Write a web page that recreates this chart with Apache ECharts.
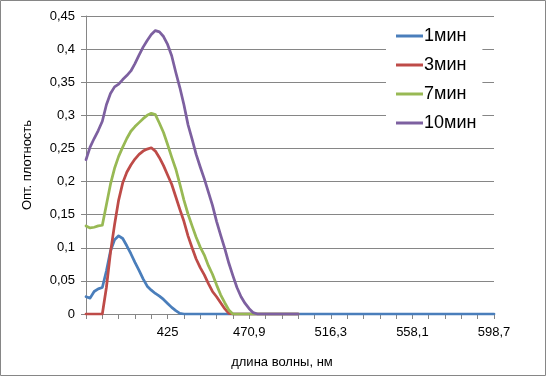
<!DOCTYPE html>
<html>
<head>
<meta charset="utf-8">
<script src="https://cdn.jsdelivr.net/npm/echarts@6/dist/echarts.min.js"></script>
<style>
  html, body { margin: 0; padding: 0; background: #fff; }
  #main { width: 547px; height: 377px; }
</style>
</head>
<body>
<div id="main"></div>
<script>
// длина волны, нм (категории оси X)
var wavelengths = [
  379.0, 381.3, 383.6, 385.9, 388.2, 390.5, 392.8, 395.1, 397.4, 399.7,
  402.0, 404.3, 406.6, 408.9, 411.2, 413.5, 415.8, 418.1, 420.4, 422.7,
  425.0, 427.3, 429.6, 431.9, 434.2, 436.5, 438.8, 441.1, 443.4, 445.7,
  448.0, 450.2, 452.5, 454.8, 457.1, 459.4, 461.7, 464.0, 466.3, 468.6,
  470.9, 473.2, 475.4, 477.7, 480.0, 482.3, 484.5, 486.8, 489.1, 491.3,
  493.6, 495.9, 498.1, 500.4, 502.7, 505.0, 507.2, 509.5, 511.8, 514.0,
  516.3, 518.4, 520.5, 522.6, 524.7, 526.8, 528.8, 530.9, 533.0, 535.1,
  537.2, 539.3, 541.4, 543.5, 545.6, 547.7, 549.7, 551.8, 553.9, 556.0,
  558.1, 560.1, 562.2, 564.2, 566.2, 568.2, 570.3, 572.3, 574.3, 576.3,
  578.4, 580.4, 582.4, 584.5, 586.5, 588.5, 590.5, 592.6, 594.6, 596.7,
  598.7
];

var min1 = [
  0.026, 0.024, 0.034, 0.038, 0.040, 0.065, 0.095, 0.112, 0.118, 0.114,
  0.103, 0.091, 0.078, 0.066, 0.053, 0.042, 0.036, 0.031, 0.027, 0.022,
  0.016, 0.010, 0.005, 0.001, 0, 0, 0, 0, 0, 0,
  0, 0, 0, 0, 0, 0, 0, 0, 0, 0,
  0, 0, 0, 0, 0, 0, 0, 0, 0, 0,
  0, 0, 0, 0, 0, 0, 0, 0, 0, 0,
  0, 0, 0, 0, 0, 0, 0, 0, 0, 0,
  0, 0, 0, 0, 0, 0, 0, 0, 0, 0,
  0, 0, 0, 0, 0, 0, 0, 0, 0, 0,
  0, 0, 0, 0, 0, 0, 0, 0, 0, 0,
  0
];

var min3 = [
  0, 0, 0, 0, 0, 0.040, 0.093, 0.135, 0.172, 0.198,
  0.214, 0.225, 0.234, 0.241, 0.246, 0.249, 0.251, 0.246, 0.236, 0.224,
  0.210, 0.196, 0.177, 0.158, 0.140, 0.118, 0.100, 0.083, 0.070, 0.059,
  0.046, 0.034, 0.026, 0.017, 0.008, 0.001, 0, 0, 0, 0,
  0, 0, 0, 0, 0, 0, 0, 0, 0, 0,
  0, 0, 0
];

var min7 = [
  0.133, 0.130, 0.131, 0.133, 0.134, 0.165, 0.196, 0.220, 0.238, 0.252,
  0.265, 0.276, 0.283, 0.289, 0.295, 0.300, 0.303, 0.301, 0.288, 0.274,
  0.256, 0.237, 0.219, 0.196, 0.172, 0.151, 0.133, 0.116, 0.101, 0.089,
  0.073, 0.060, 0.044, 0.029, 0.017, 0.006, 0, 0, 0, 0,
  0, 0, 0, 0, 0, 0, 0, 0, 0, 0,
  0, 0, 0
];

var min10 = [
  0.233, 0.252, 0.265, 0.277, 0.291, 0.316, 0.333, 0.343, 0.347, 0.354,
  0.360, 0.367, 0.378, 0.391, 0.403, 0.413, 0.422, 0.428, 0.426, 0.419,
  0.407, 0.390, 0.365, 0.342, 0.316, 0.286, 0.264, 0.241, 0.222, 0.204,
  0.184, 0.164, 0.140, 0.119, 0.099, 0.077, 0.058, 0.040, 0.026, 0.016,
  0.008, 0.002, 0, 0, 0, 0, 0, 0, 0, 0,
  0, 0, 0
];

var seriesNames = ['1мин', '3мин', '7мин', '10мин'];
var colors = ['#4a7ebb', '#be4b48', '#98b954', '#7d60a0'];

var font = 'Liberation Sans';
var myChart = echarts.init(document.getElementById('main'));

function lineSeries(name, data, color) {
  return {
    name: name,
    type: 'line',
    data: data,
    showSymbol: false,
    symbol: 'none',
    color: color,
    lineStyle: { width: 2.75, color: color, cap: 'round', join: 'round' }
  };
}

myChart.setOption({
  animation: false,
  backgroundColor: '#fff',
  color: colors,
  grid: { left: 86, right: 53, top: 16, bottom: 63 },
  legend: {
    orient: 'vertical',
    left: 386,
    top: 23,
    padding: [4, 6, 5, 10],
    backgroundColor: '#fff',
    icon: 'rect',
    itemWidth: 27,
    itemHeight: 3,
    itemGap: 11,
    textStyle: { fontFamily: font, fontSize: 18, color: '#000', padding: [0, 0, 0, -4] },
    data: seriesNames
  },
  xAxis: {
    type: 'category',
    data: wavelengths,
    boundaryGap: false,
    axisLine: { lineStyle: { color: '#868686', width: 1 } },
    axisTick: {
      interval: function (i) { return i % 4 === 0; },
      length: 5,
      lineStyle: { color: '#868686' }
    },
    axisLabel: {
      interval: function (i) { return i > 0 && i % 20 === 0; },
      margin: 12,
      fontFamily: font,
      fontSize: 13,
      color: '#000',
      formatter: function (v) { return String(v).replace('.', ','); }
    },
    splitLine: { show: false }
  },
  yAxis: {
    type: 'value',
    min: 0,
    max: 0.45,
    interval: 0.05,
    name: 'Опт. плотность',
    nameLocation: 'middle',
    nameGap: 52,
    nameTextStyle: { fontFamily: font, fontSize: 13, color: '#000' },
    axisLine: { show: true, lineStyle: { color: '#868686', width: 1 } },
    axisTick: { show: true, length: 5, lineStyle: { color: '#868686' } },
    axisLabel: {
      margin: 11,
      fontFamily: font,
      fontSize: 13,
      color: '#000',
      formatter: function (v) {
        return String(parseFloat(v.toFixed(2))).replace('.', ',');
      }
    },
    splitLine: { lineStyle: { color: '#868686', width: 1 } }
  },
  graphic: [{
    type: 'rect',
    silent: true,
    shape: { x: 0.5, y: 0.5, width: 545, height: 375 },
    style: { fill: null, stroke: '#868686', lineWidth: 1 }
  }, {
    type: 'text',
    silent: true,
    x: 282,
    y: 362,
    style: {
      text: 'длина волны, нм',
      fontFamily: font,
      fontSize: 13,
      fill: '#000',
      align: 'center',
      verticalAlign: 'middle'
    }
  }],
  series: [
    lineSeries(seriesNames[0], min1, colors[0]),
    lineSeries(seriesNames[1], min3, colors[1]),
    lineSeries(seriesNames[2], min7, colors[2]),
    lineSeries(seriesNames[3], min10, colors[3])
  ]
});
</script>
</body>
</html>
